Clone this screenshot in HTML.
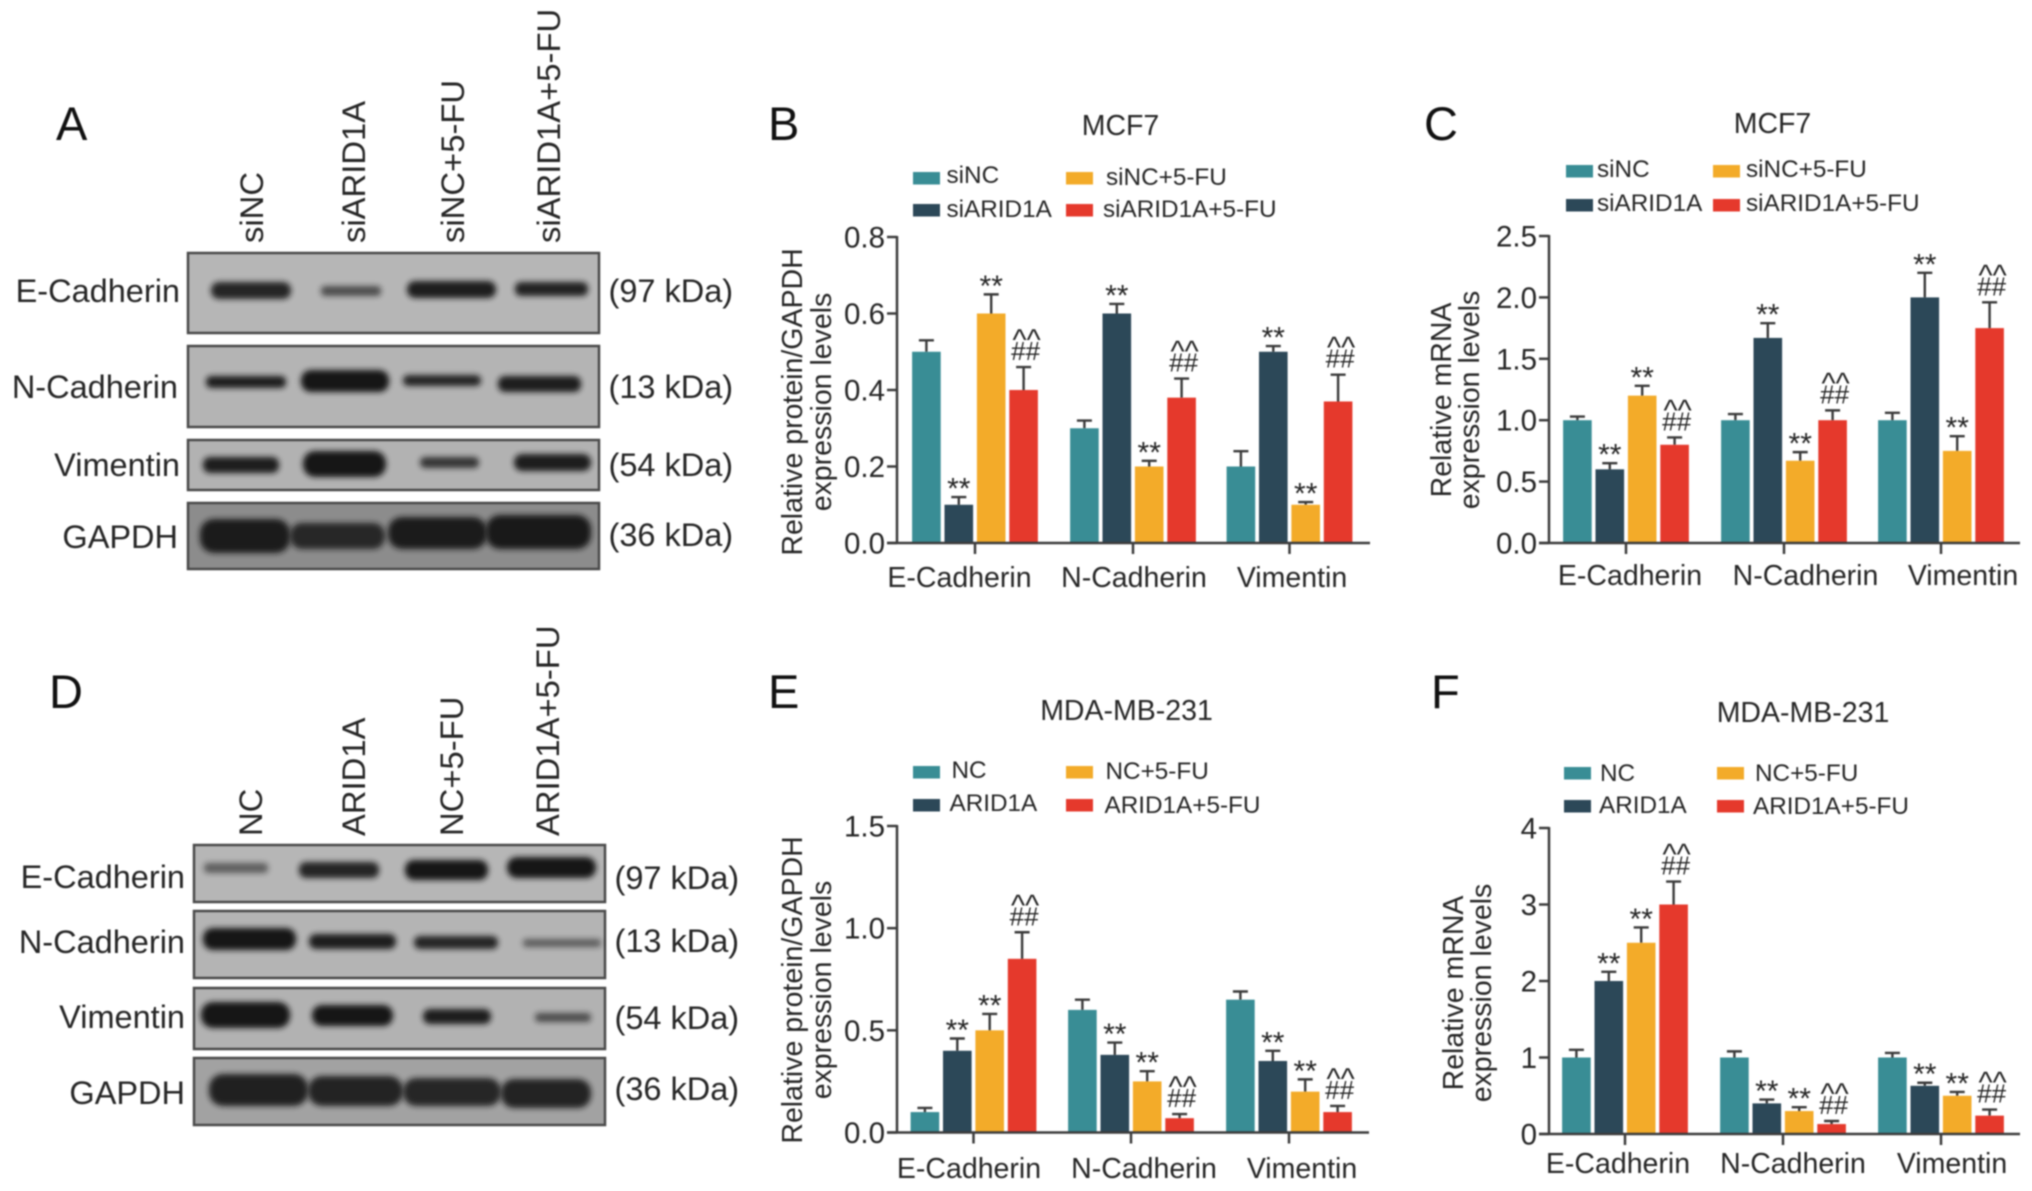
<!DOCTYPE html>
<html lang="en">
<head>
<meta charset="utf-8">
<title>Western blot and expression charts</title>
<style>
html,body{margin:0;padding:0;background:#fff;width:2032px;height:1191px;overflow:hidden}
#figure{display:block;filter:blur(0.7px)}
text{font-family:"Liberation Sans",sans-serif;fill:#262626}
.lane{font-size:32.8px}
.row{font-size:32.5px;text-anchor:end}
.kda{font-size:32.5px}
.letter{font-size:47px;fill:#111}
.blot{stroke:#4a4a4a;stroke-width:2.5}
.band{fill:#141414;filter:url(#bandBlur)}
</style>
</head>
<body>
<svg id="figure" xmlns="http://www.w3.org/2000/svg" width="2032" height="1191" viewBox="0 0 2032 1191">
<defs>
<filter id="bandBlur" x="-30%" y="-80%" width="160%" height="260%"><feGaussianBlur stdDeviation="3"/></filter>
</defs>

<g>
<text class="letter" x="56" y="140">A</text>
<text class="lane" transform="translate(263 243) rotate(-90)">siNC</text>
<text class="lane" transform="translate(365 243) rotate(-90)">siARID1A</text>
<text class="lane" transform="translate(464 243) rotate(-90)">siNC+5-FU</text>
<text class="lane" transform="translate(560 243) rotate(-90)">siARID1A+5-FU</text>

<rect class="blot" x="188" y="253" width="411" height="80" fill="#b6b6b6"/>
<rect class="blot" x="188" y="346" width="411" height="81" fill="#b4b4b4"/>
<rect class="blot" x="188" y="440" width="411" height="50" fill="#b2b2b2"/>
<rect class="blot" x="188" y="503" width="411" height="66" fill="#8c8c8c"/>

<g>
<rect class="band" x="211" y="282" width="80" height="17" rx="8" opacity=".9"/>
<rect class="band" x="321" y="286" width="60" height="10" rx="4" opacity=".65"/>
<rect class="band" x="407" y="281" width="89" height="17" rx="8" opacity=".95"/>
<rect class="band" x="515" y="282" width="73" height="14" rx="6" opacity=".92"/>
</g>
<g>
<rect class="band" x="206" y="376" width="80" height="12" rx="5" opacity=".95"/>
<rect class="band" x="301" y="370" width="88" height="22" rx="10" opacity="1"/>
<rect class="band" x="403" y="375" width="78" height="11" rx="5" opacity=".9"/>
<rect class="band" x="498" y="376" width="83" height="16" rx="7" opacity=".95"/>
</g>
<g>
<rect class="band" x="203" y="457" width="76" height="16" rx="7" opacity=".95"/>
<rect class="band" x="303" y="451" width="83" height="26" rx="12" opacity="1"/>
<rect class="band" x="420" y="457" width="59" height="11" rx="5" opacity=".8"/>
<rect class="band" x="514" y="454" width="77" height="17" rx="8" opacity=".95"/>
</g>
<g>
<rect class="band" x="200" y="519" width="90" height="34" rx="14" opacity=".95"/>
<rect class="band" x="290" y="523" width="95" height="26" rx="12" opacity=".85"/>
<rect class="band" x="388" y="517" width="99" height="32" rx="14" opacity=".95"/>
<rect class="band" x="486" y="515" width="105" height="34" rx="14" opacity=".97"/>
</g>

<text class="row" x="180" y="302">E-Cadherin</text>
<text class="row" x="178" y="398">N-Cadherin</text>
<text class="row" x="180" y="476">Vimentin</text>
<text class="row" x="178" y="548">GAPDH</text>
<text class="kda" x="608.5" y="302">(97 kDa)</text>
<text class="kda" x="608.5" y="398">(13 kDa)</text>
<text class="kda" x="608.5" y="476">(54 kDa)</text>
<text class="kda" x="608.5" y="546">(36 kDa)</text>
</g>

<g>
<text class="letter" x="49" y="708">D</text>
<text class="lane" transform="translate(262 836) rotate(-90)">NC</text>
<text class="lane" transform="translate(365 836) rotate(-90)">ARID1A</text>
<text class="lane" transform="translate(463 836) rotate(-90)">NC+5-FU</text>
<text class="lane" transform="translate(559 836) rotate(-90)">ARID1A+5-FU</text>

<rect class="blot" x="194" y="845" width="411" height="57" fill="#b6b6b6"/>
<rect class="blot" x="194" y="911" width="411" height="67" fill="#b4b4b4"/>
<rect class="blot" x="194" y="988" width="411" height="61" fill="#b2b2b2"/>
<rect class="blot" x="194" y="1058" width="411" height="67" fill="#a2a2a2"/>

<g>
<rect class="band" x="204" y="863" width="64" height="10" rx="4" opacity=".55"/>
<rect class="band" x="299" y="862" width="80" height="16" rx="7" opacity=".9"/>
<rect class="band" x="405" y="860" width="83" height="20" rx="9" opacity="1"/>
<rect class="band" x="507" y="857" width="89" height="21" rx="10" opacity="1"/>
</g>
<g>
<rect class="band" x="203" y="928" width="93" height="22" rx="10" opacity="1"/>
<rect class="band" x="309" y="934" width="87" height="15" rx="7" opacity=".95"/>
<rect class="band" x="414" y="936" width="84" height="13" rx="6" opacity=".9"/>
<rect class="band" x="523" y="939" width="78" height="8" rx="3" opacity=".55"/>
</g>
<g>
<rect class="band" x="201" y="1002" width="89" height="26" rx="12" opacity="1"/>
<rect class="band" x="312" y="1005" width="81" height="21" rx="10" opacity="1"/>
<rect class="band" x="423" y="1009" width="68" height="15" rx="7" opacity=".95"/>
<rect class="band" x="535" y="1013" width="56" height="9" rx="4" opacity=".65"/>
</g>
<g>
<rect class="band" x="209" y="1074" width="99" height="32" rx="14" opacity=".92"/>
<rect class="band" x="308" y="1076" width="95" height="30" rx="14" opacity=".9"/>
<rect class="band" x="403" y="1078" width="98" height="28" rx="13" opacity=".88"/>
<rect class="band" x="501" y="1079" width="90" height="29" rx="13" opacity=".9"/>
</g>

<text class="row" x="185" y="888">E-Cadherin</text>
<text class="row" x="185" y="953">N-Cadherin</text>
<text class="row" x="185" y="1028">Vimentin</text>
<text class="row" x="185" y="1104">GAPDH</text>
<text class="kda" x="614.5" y="889">(97 kDa)</text>
<text class="kda" x="614.5" y="952">(13 kDa)</text>
<text class="kda" x="614.5" y="1029">(54 kDa)</text>
<text class="kda" x="614.5" y="1100">(36 kDa)</text>
</g>

<g id="charts"></g>
</svg>

<script>
// Shared labels and colours
var categories = ['E-Cadherin', 'N-Cadherin', 'Vimentin'];
var siLegend = ['siNC', 'siARID1A', 'siNC+5-FU', 'siARID1A+5-FU'];
var oeLegend = ['NC', 'ARID1A', 'NC+5-FU', 'ARID1A+5-FU'];
var seriesColors = ['#398d95', '#2c4858', '#f3ab29', '#e5392c'];
var seriesMarks = ['', '**', '**', '^^##'];

// Panel B: values per series, each listed by category
var bTicks = ['0.0', '0.2', '0.4', '0.6', '0.8'];
var bValues = [[0.5, 0.3, 0.2], [0.1, 0.6, 0.5], [0.6, 0.2, 0.1], [0.4, 0.38, 0.37]];
var bErrors = [[0.53, 0.32, 0.24], [0.12, 0.625, 0.515], [0.65, 0.215, 0.107], [0.46, 0.43, 0.44]];

// Panel C
var cTicks = ['0.0', '0.5', '1.0', '1.5', '2.0', '2.5'];
var cValues = [[1, 1, 1], [0.6, 1.67, 2], [1.2, 0.67, 0.75], [0.8, 1, 1.75]];
var cErrors = [[1.03, 1.05, 1.06], [0.65, 1.79, 2.2], [1.28, 0.74, 0.87], [0.86, 1.08, 1.96]];

// Panel E
var eTicks = ['0.0', '0.5', '1.0', '1.5'];
var eValues = [[0.1, 0.6, 0.65], [0.4, 0.38, 0.35], [0.5, 0.25, 0.2], [0.85, 0.07, 0.1]];
var eErrors = [[0.12, 0.65, 0.69], [0.46, 0.44, 0.4], [0.58, 0.3, 0.26], [0.98, 0.09, 0.13]];

// Panel F
var fTicks = ['0', '1', '2', '3', '4'];
var fValues = [[1, 1, 1], [2, 0.4, 0.63], [2.5, 0.3, 0.5], [3, 0.13, 0.24]];
var fErrors = [[1.1, 1.08, 1.06], [2.12, 0.45, 0.67], [2.7, 0.35, 0.55], [3.3, 0.17, 0.32]];

var SVGNS = 'http://www.w3.org/2000/svg';
var root = document.getElementById('charts');

function make(tag, attrs, parent, content) {
  var node = document.createElementNS(SVGNS, tag);
  for (var key in attrs) node.setAttribute(key, attrs[key]);
  if (content !== undefined) node.textContent = content;
  parent.appendChild(node);
  return node;
}

function drawChart(c) {
  var g = make('g', {}, root);
  
  

  var maxTick = parseFloat(c.ticks[c.ticks.length - 1]);
  function y(v) { return c.y0 - (v / maxTick) * (c.y0 - c.yTop); }
  function barX(cat, s) { return c.groups[cat] + (s - 1.5) * 32.4; }

  // Panel letter and title
  var letter = make('text', {x: c.letter[0], y: c.letter[1], 'font-size': 47, style: 'fill:#111'}, g, c.letter[2]);
  
  
  var title = make('text', {x: c.title[0], y: c.title[1], 'font-size': 28.5, 'text-anchor': 'middle'}, g, c.title[2]);
  
  

  // Legend
  for (var i = 0; i < 4; i++) {
    var sw = make('rect', {x: c.legendSwatchX[i], y: c.legendSwatchY[i], width: 27, height: 12.5, fill: seriesColors[i]}, g);
    
    
    var lt = make('text', {x: c.legendTextX[i], y: c.legendTextY[i], 'font-size': 24.3}, g, c.legend[i]);
    
    
  }

  // Bars, error bars, significance marks
  for (var s = 0; s < 4; s++) {
    for (var k = 0; k < categories.length; k++) {
      var cx = barX(k, s);
      var topY = y(c.values[s][k]);
      var errY = y(c.errors[s][k]);
      var whisker = make('path', {d: 'M' + cx + ' ' + topY + 'V' + errY + 'M' + (cx - 7.5) + ' ' + errY + 'H' + (cx + 7.5), stroke: '#3a3a3a', 'stroke-width': 2.4, fill: 'none'}, g);
      
      
      var bar = make('rect', {x: cx - 14.3, y: topY, width: 28.6, height: c.y0 - topY, fill: seriesColors[s]}, g);
      
      

      var mark = seriesMarks[s];
      if (mark === '**') {
        var star = make('text', {x: cx, y: errY + 1.5, 'font-size': 30, 'text-anchor': 'middle'}, g, '**');
        
        
      } else if (mark === '^^##') {
        var hash = make('text', {x: cx + 2, y: errY - 7, 'font-size': 26, 'text-anchor': 'middle'}, g, '##');
        
        
        var caret = make('text', {x: cx + 3, y: errY - 17, 'font-size': 30, 'text-anchor': 'middle'}, g, '^^');
        
        
      }
    }
  }

  // Axes
  var yAxis = make('line', {x1: c.axisX, x2: c.axisX, y1: c.yTop - 1, y2: c.y0, stroke: '#3c3c3c', 'stroke-width': 2.5}, g);
  
  
  var xAxis = make('line', {x1: c.axisX - 10, x2: c.xEnd, y1: c.y0, y2: c.y0, stroke: '#3c3c3c', 'stroke-width': 2.5}, g);
  
  

  c.ticks.forEach(function (label) {
    var ty = y(parseFloat(label));
    var tick = make('line', {x1: c.axisX - 10, x2: c.axisX, y1: ty, y2: ty, stroke: '#3c3c3c', 'stroke-width': 2.5}, g);
    
    
    var tl = make('text', {x: c.axisX - 12, y: ty + 10.5, 'font-size': 29.5, 'text-anchor': 'end'}, g, label);
    
    
  });

  categories.forEach(function (label, k) {
    var tick = make('line', {x1: c.groups[k], x2: c.groups[k], y1: c.y0, y2: c.y0 + 11, stroke: '#3c3c3c', 'stroke-width': 2.5}, g);
    
    
    var tl = make('text', {x: c.catX[k], y: c.catY, 'font-size': 28.5, 'text-anchor': 'middle'}, g, label);
    
    
  });

  // Y axis title (two lines)
  var t1 = make('text', {transform: 'translate(' + c.yTitleX[0] + ' ' + c.yTitleY + ') rotate(-90)', 'font-size': 28.5, 'text-anchor': 'middle'}, g, c.yTitle);
  
  
  var t2 = make('text', {transform: 'translate(' + c.yTitleX[1] + ' ' + c.yTitleY + ') rotate(-90)', 'font-size': 28.5, 'text-anchor': 'middle'}, g, 'expression levels');
  
  
}

drawChart({
  id: 'b', ticks: bTicks, values: bValues, errors: bErrors, legend: siLegend,
  axisX: 897, xEnd: 1370, y0: 543, yTop: 237, groups: [975, 1133, 1289.5],
  letter: [768, 140, 'B'], title: [1120.5, 135, 'MCF7'],
  legendSwatchX: [913, 913, 1066, 1066], legendSwatchY: [172, 204, 172, 204],
  legendTextX: [946.5, 946.5, 1106, 1103], legendTextY: [183, 217, 185, 217],
  catX: [959.5, 1134, 1292], catY: 587,
  yTitle: 'Relative protein/GAPDH', yTitleX: [802, 831], yTitleY: 402
});
drawChart({
  id: 'c', ticks: cTicks, values: cValues, errors: cErrors, legend: siLegend,
  axisX: 1549, xEnd: 2020, y0: 543, yTop: 236, groups: [1626, 1784, 1941],
  letter: [1424, 140, 'C'], title: [1772.5, 133, 'MCF7'],
  legendSwatchX: [1566, 1566, 1713, 1713], legendSwatchY: [165, 199, 165, 199],
  legendTextX: [1597, 1597, 1746, 1746], legendTextY: [177, 211, 177, 211],
  catX: [1630, 1805.5, 1963], catY: 585,
  yTitle: 'Relative mRNA', yTitleX: [1451, 1479], yTitleY: 400
});
drawChart({
  id: 'e', ticks: eTicks, values: eValues, errors: eErrors, legend: oeLegend,
  axisX: 897, xEnd: 1369, y0: 1132.5, yTop: 826, groups: [973.5, 1131, 1289],
  letter: [768, 708, 'E'], title: [1126.5, 720, 'MDA-MB-231'],
  legendSwatchX: [913, 913, 1066, 1066], legendSwatchY: [766, 799, 766, 799],
  legendTextX: [951.5, 949.5, 1105.5, 1104.5], legendTextY: [778, 811, 779, 813],
  catX: [969, 1144, 1302], catY: 1178,
  yTitle: 'Relative protein/GAPDH', yTitleX: [802, 831], yTitleY: 990
});
drawChart({
  id: 'f', ticks: fTicks, values: fValues, errors: fErrors, legend: oeLegend,
  axisX: 1549, xEnd: 2020, y0: 1134, yTop: 828, groups: [1625, 1783, 1941],
  letter: [1431, 708, 'F'], title: [1803, 722, 'MDA-MB-231'],
  legendSwatchX: [1564, 1564, 1717, 1717], legendSwatchY: [767, 800, 767, 800],
  legendTextX: [1600, 1599, 1755, 1753], legendTextY: [781, 813, 781, 814],
  catX: [1618, 1793, 1952], catY: 1173,
  yTitle: 'Relative mRNA', yTitleX: [1463, 1491], yTitleY: 993
});
</script>
</body>
</html>
